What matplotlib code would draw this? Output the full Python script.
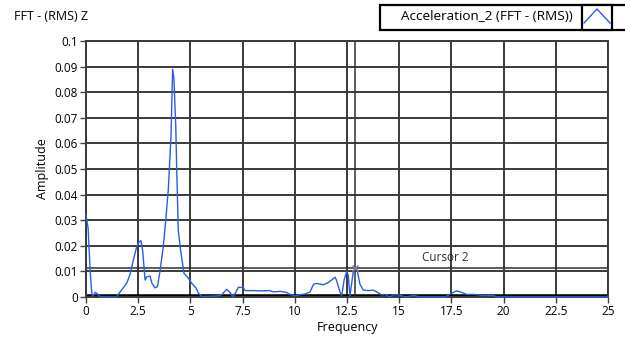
import numpy as np
import matplotlib
matplotlib.use('Agg')
import matplotlib.pyplot as plt
from matplotlib.patches import Rectangle
from matplotlib.lines import Line2D

plt.rcParams['font.family'] = ['Open Sans', 'DejaVu Sans']

# ---------------spectrum
freq = [0.0, 0.1, 0.2, 0.27, 0.32, 0.45, 0.6, 0.7, 1.45, 1.7, 1.95, 2.1, 2.27,
        2.43, 2.55, 2.63, 2.71, 2.83, 2.9, 3.07, 3.15, 3.3, 3.42, 3.54, 3.7,
        3.82, 3.94, 4.07, 4.15, 4.21, 4.3, 4.35, 4.42, 4.53, 4.69, 4.9, 5.06,
        5.27, 5.38, 5.54, 6.26, 6.5, 6.74, 6.9, 7.05, 7.3, 7.52, 7.62, 8.0,
        8.4, 8.8, 8.97, 9.3, 9.6, 9.77, 10.0, 10.5, 10.73, 10.9, 11.05, 11.37,
        11.6, 11.93, 12.0, 12.16, 12.25, 12.36, 12.48, 12.56, 12.64, 12.72,
        12.8, 12.92, 13.0, 13.12, 13.28, 13.52, 13.76, 13.92, 14.16, 14.32,
        14.56, 14.7, 15.0, 15.3, 15.7, 16.0, 17.2, 17.45, 17.75, 18.0, 18.23,
        18.6, 19.0, 19.5, 19.7, 25.0]
amp = [0.032, 0.027, 0.010, 0.002, 0.0003, 0.0018, 0.0008, 0.0, 0.0, 0.0027,
       0.0054, 0.0086, 0.0145, 0.0197, 0.0216, 0.022, 0.0184, 0.0066, 0.0078,
       0.0082, 0.0055, 0.0036, 0.004, 0.0099, 0.0197, 0.030, 0.0418, 0.0626,
       0.089, 0.0854, 0.0665, 0.048, 0.026, 0.0184, 0.0093, 0.0074, 0.0054,
       0.0035, 0.0016, 0.0002, 0.0004, 0.0009, 0.003, 0.0017, 0.0, 0.0038,
       0.0037, 0.0025, 0.0025, 0.0024, 0.0025, 0.002, 0.0022, 0.0018, 0.001,
       0.0005, 0.0012, 0.002, 0.005, 0.0053, 0.0048, 0.0056, 0.0077, 0.0065,
       0.002, 0.0005, 0.0066, 0.0099, 0.0085, 0.0005, 0.005, 0.0099, 0.0112,
       0.0099, 0.005, 0.0027, 0.0025, 0.0027, 0.002, 0.0008, 0.001, 0.0,
       0.0008, 0.0008, 0.0, 0.0006, 0.0, 0.0, 0.0012, 0.0024, 0.0018, 0.001,
       0.001, 0.0006, 0.0006, 0.0, 0.0]

cursor_x = 12.9
cursor_y = 0.0112

xticks = [0, 2.5, 5, 7.5, 10, 12.5, 15, 17.5, 20, 22.5, 25]
xlabels = ['0', '2.5', '5', '7.5', '10', '12.5', '15', '17.5', '20', '22.5', '25']
yticks = [0, 0.01, 0.02, 0.03, 0.04, 0.05, 0.06, 0.07, 0.08, 0.09, 0.1]
ylabels = ['0', '0.01', '0.02', '0.03', '0.04', '0.05', '0.06', '0.07', '0.08', '0.09', '0.1']

fig = plt.figure(figsize=(6.25, 3.44), dpi=100)
ax = fig.add_axes([86/625, 47/344, 522/625, 256/344])

ax.set_xlim(0, 25)
ax.set_ylim(0, 0.1)
ax.set_xticks(xticks)
ax.set_xticklabels(xlabels)
ax.set_yticks(yticks)
ax.set_yticklabels(ylabels)
ax.tick_params(labelsize=8.5, length=4, width=1, color='#404040', pad=2)
ax.grid(True, color='#3a3a3a', linewidth=1.4)
ax.set_axisbelow(True)
for s in ax.spines.values():
    s.set_color('#3a3a3a')
    s.set_linewidth(1.4)

# thick zero line
ax.axhline(0, color='black', linewidth=4, zorder=1)

# cursor
ax.axvline(cursor_x, color='#303030', linewidth=1.1, zorder=2)
ax.axhline(cursor_y, color='#303030', linewidth=1.1, zorder=2)

ax.plot(freq, amp, color='#2a5ce6', linewidth=1.0, zorder=3, clip_on=False)
ax.plot([cursor_x], [cursor_y], marker='x', color='#808080', markersize=5, zorder=4)
ax.text(16.1, 0.0155, 'Cursor 2', fontsize=8.5, color='#303030', va='center')

ax.set_xlabel('Frequency', fontsize=9, labelpad=2)
ax.set_ylabel('Amplitude', fontsize=9, labelpad=4)

fig.text(14/625, 1 - 17/344, 'FFT - (RMS) Z', fontsize=9, va='center')

# legend box
fig.patches.append(Rectangle((380/625, 1 - 30/344), 260/625, 25/344, transform=fig.transFigure,
                             facecolor='white', edgecolor='black', linewidth=1.6))
fig.text(487/625, 1 - 17/344, 'Acceleration_2 (FFT - (RMS))', fontsize=9.7, va='center', ha='center')
fig.patches.append(Rectangle((582/625, 1 - 30/344), 30/625, 25/344, transform=fig.transFigure,
                             facecolor='white', edgecolor='black', linewidth=1.6))
fig.lines.append(Line2D([584/625, 597/625, 610/625], [1 - 23/344, 1 - 9/344, 1 - 23/344],
                        transform=fig.transFigure, color='#2a5ce6', linewidth=1))

fig.savefig('out.png', dpi=100)
